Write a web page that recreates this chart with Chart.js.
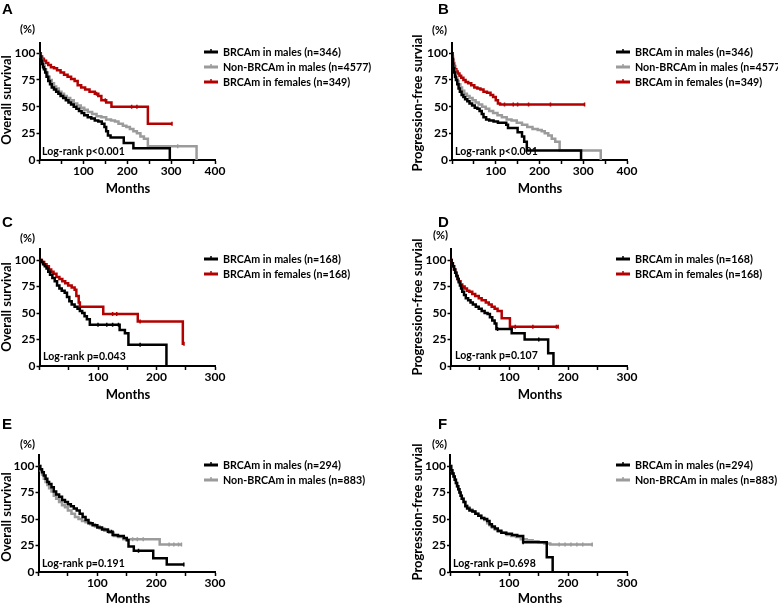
<!DOCTYPE html>
<html>
<head>
<meta charset="utf-8">
<script src="https://cdn.jsdelivr.net/npm/chart.js@4.4.0/dist/chart.umd.min.js"></script>
<style>
html, body { margin: 0; padding: 0; background: #fff; }
body { width: 778px; height: 605px; position: relative; overflow: hidden; }
canvas { position: absolute; }
</style>
</head>
<body>
<canvas id="panelA" width="389" height="200" style="left:0;top:0"></canvas>
<canvas id="panelB" width="389" height="200" style="left:389px;top:0"></canvas>
<canvas id="panelC" width="389" height="200" style="left:0;top:200px"></canvas>
<canvas id="panelD" width="389" height="200" style="left:389px;top:200px"></canvas>
<canvas id="panelE" width="389" height="205" style="left:0;top:400px"></canvas>
<canvas id="panelF" width="389" height="205" style="left:389px;top:400px"></canvas>
<script>
// Kaplan-Meier curves: [month, % surviving after the step at that month]
// A - overall survival, whole cohort
const osMaleBrca = [[0,100],[2,97],[4,93],[6,90],[8,87],[10,85],[13,82],[16,78],[20,74],[24,71],[28,68],[33,66],[38,64],[43,62],[48,60],[54,58],[60,56],[66,54],[72,52],[78,50],[84,48],[90,46],[96,44],[102,42],[110,40],[118,39],[126,37],[134,36],[142,34],[148,31],[152,27],[156,23],[162,21],[192,16],[214,11],[297,0]];
const osMaleNon = [[0,100],[2,97],[4,94],[6,91],[9,88],[12,85],[15,82],[19,78],[23,75],[28,72],[33,69],[38,67],[44,64],[50,62],[56,60],[62,58],[70,56],[78,53],[86,51],[94,49],[102,47],[110,45],[120,43],[130,41],[141,40],[152,38],[163,37],[172,36],[180,34],[190,32],[198,31],[206,29],[214,27],[222,25],[230,22],[238,20],[247,13],[358,0]];
const osFemaleBrca = [[0,100],[3,97],[6,95],[10,93],[15,91],[20,89],[26,87],[33,86],[40,84],[48,82],[56,80],[64,78],[72,76],[80,74],[87,70],[95,68],[104,66],[114,64],[126,62],[134,60],[141,56],[152,54],[164,50],[247,34],[302,34]];
const osMaleNonCens = [315];
const osFemaleBrcaCens = [130, 150, 210, 222, 302];

// B - progression-free survival, whole cohort
const pfsMaleBrca = [[0,100],[1,95],[2,90],[3,86],[5,82],[7,78],[9,75],[12,71],[15,67],[18,64],[22,61],[26,59],[30,57],[35,55],[40,53],[46,51],[52,49],[58,48],[63,46],[68,43],[72,40],[78,38],[85,37],[95,36],[105,35],[124,33],[128,30],[150,26],[160,22],[165,17],[171,9],[295,0]];
const pfsMaleNon = [[0,100],[1,96],[2,92],[3,88],[5,84],[7,80],[9,77],[12,74],[15,71],[19,68],[23,65],[28,62],[34,60],[40,58],[47,56],[54,54],[61,52],[69,50],[77,48],[85,46],[94,44],[104,42],[114,40],[125,38],[136,37],[148,35],[160,33],[172,31],[184,29],[196,28],[205,27],[212,25],[220,23],[228,20],[236,17],[246,9],[340,0]];
const pfsFemaleBrca = [[0,100],[1,97],[2,94],[3,91],[5,88],[7,85],[10,83],[13,81],[17,79],[21,77],[26,75],[31,73],[37,72],[44,70],[51,68],[58,67],[65,66],[72,64],[80,63],[88,61],[94,59],[100,56],[105,53],[110,52],[303,52]];
const pfsFemaleBrcaCens = [120, 140, 150, 175, 225, 303];

// C - overall survival, matched BRCAm males vs females
const osMatchMale = [[0,100],[3,98],[6,96],[9,94],[12,92],[15,89],[18,86],[22,83],[26,80],[30,76],[34,73],[38,71],[43,69],[47,65],[51,61],[55,58],[60,56],[65,54],[69,52],[73,50],[77,47],[81,44],[86,39],[137,34],[146,31],[152,20],[217,0]];
const osMatchFemale = [[0,100],[4,98],[8,96],[12,94],[16,91],[20,89],[24,87],[29,84],[34,82],[39,80],[44,78],[49,76],[55,74],[60,72],[63,66],[67,60],[69,56],[109,49],[168,42],[245,21],[247,21]];
const osMatchMaleCens = [100, 115, 125, 135, 172];
const osMatchFemaleCens = [125, 132, 172, 247];

// D - progression-free survival, matched BRCAm males vs females
const pfsMatchMale = [[0,100],[2,97],[4,94],[6,91],[8,88],[10,85],[12,82],[14,79],[16,76],[18,73],[20,70],[23,67],[26,64],[30,62],[34,60],[38,58],[43,56],[48,54],[53,52],[58,50],[63,49],[67,46],[71,43],[75,40],[78,35],[104,31],[126,25],[166,12],[175,0]];
const pfsMatchFemale = [[0,100],[2,97],[4,94],[6,91],[8,88],[10,85],[12,82],[14,80],[17,77],[20,75],[24,73],[28,71],[32,70],[37,68],[42,66],[48,64],[53,62],[60,60],[65,58],[70,56],[75,54],[80,52],[87,45],[101,37],[183,37]];
const pfsMatchMaleCens = [80, 150];
const pfsMatchFemaleCens = [110, 140, 180, 183];

// E - overall survival, matched BRCAm vs non-BRCAm males
const osMatch2Brca = [[0,100],[3,97],[6,94],[9,91],[12,88],[15,85],[18,83],[22,80],[26,76],[30,73],[35,71],[40,68],[45,66],[50,64],[55,62],[60,60],[65,58],[70,55],[75,52],[80,49],[85,46],[92,44],[100,42],[108,40],[118,38],[126,35],[135,34],[145,32],[150,30],[153,24],[162,20],[195,13],[218,7],[247,7]];
const osMatch2Non = [[0,100],[3,96],[6,92],[9,88],[12,85],[15,82],[18,79],[22,76],[26,72],[30,69],[35,66],[40,63],[45,61],[50,58],[56,55],[62,52],[68,50],[74,48],[80,47],[88,45],[96,43],[104,41],[112,39],[120,37],[128,34],[136,33],[144,31],[206,26],[243,26]];
const osMatch2BrcaCens = [124, 170, 247];
const osMatch2NonCens = [160, 168, 178, 222, 230, 238, 243];

// F - progression-free survival, matched BRCAm vs non-BRCAm males
const pfsMatch2Brca = [[0,100],[2,96],[4,93],[6,90],[8,87],[10,84],[12,81],[14,78],[16,75],[18,72],[20,69],[23,66],[26,62],[29,60],[33,58],[38,57],[43,55],[48,53],[53,51],[58,50],[63,48],[67,45],[71,43],[76,41],[81,39],[87,37],[95,36],[105,35],[114,34],[124,28],[164,14],[174,0]];
const pfsMatch2Non = [[0,100],[2,96],[4,93],[6,90],[8,87],[10,84],[12,81],[14,78],[16,75],[18,72],[20,69],[23,66],[26,63],[29,61],[33,59],[38,57],[43,55],[48,53],[53,51],[58,49],[63,46],[67,44],[71,42],[76,40],[81,38],[88,37],[96,35],[104,34],[112,33],[120,31],[130,30],[140,29],[150,28],[160,27],[170,26],[241,26]];
const pfsMatch2BrcaCens = [124];
const pfsMatch2NonCens = [185, 195, 205, 215, 225, 241];

// legend labels
const labelsA = ['BRCAm in males (n=346)', 'Non-BRCAm in males (n=4577)', 'BRCAm in females (n=349)'];
const labelsC = ['BRCAm in males (n=168)', 'BRCAm in females (n=168)'];
const labelsE = ['BRCAm in males (n=294)', 'Non-BRCAm in males (n=883)'];

const yTicks = [0, 25, 50, 75, 100];

const BLACK = '#000000';
const GREY = '#9b9b9b';
const RED = '#b30000';
const FONT = 'Lato, "Open Sans", sans-serif';

// value of a step curve at month t
function survivalAt(curve, t) {
    let v = curve[0][1];
    curve.forEach(p => { if (p[0] <= t) v = p[1]; });
    return v;
}

// draws panel letter, (%) unit, axis titles, p-value and the legend
const panelText = {
    id: 'panelText',
    afterDraw(chart, args, o) {
        const ctx = chart.ctx;
        ctx.save();
        ctx.fillStyle = '#000';

        ctx.font = 'bold 15px "Liberation Sans", Arial, sans-serif';
        ctx.textAlign = 'left';
        ctx.textBaseline = 'top';
        ctx.fillText(o.letter, o.letterPos[0], o.letterPos[1]);

        ctx.textBaseline = 'middle';
        ctx.font = 'bold 11px ' + FONT;
        ctx.fillText('(%)', o.unitPos[0], o.unitPos[1]);

        ctx.font = 'bold 10.5px ' + FONT;
        ctx.fillText(o.pText, o.pPos[0], o.pPos[1]);

        ctx.textAlign = 'center';
        ctx.font = 'bold 13px ' + FONT;
        ctx.fillText('Months', o.xTitlePos[0], o.xTitlePos[1]);

        ctx.save();
        ctx.translate(o.yTitlePos[0], o.yTitlePos[1]);
        ctx.rotate(-Math.PI / 2);
        ctx.font = 'bold 13px ' + FONT;
        ctx.fillText(o.yTitle, 0, 0);
        ctx.restore();

        // legend
        ctx.textAlign = 'left';
        ctx.font = 'bold 10.7px ' + FONT;
        o.legend.forEach((item, i) => {
            const y = o.legendY[i];
            ctx.strokeStyle = item.color;
            ctx.lineWidth = 3;
            ctx.beginPath();
            ctx.moveTo(o.legendX, y);
            ctx.lineTo(o.legendX + 14, y);
            ctx.stroke();
            ctx.lineWidth = 1.5;
            ctx.beginPath();
            ctx.moveTo(o.legendX + 7, y - 3);
            ctx.lineTo(o.legendX + 7, y);
            ctx.stroke();
            ctx.fillText(item.label, o.legendX + 19, y + 0.5);
        });
        ctx.restore();
    }
};

function curveDataset(curve, color) {
    return {
        data: curve.map(p => ({ x: p[0], y: p[1] })),
        stepped: 'before',
        borderColor: color,
        borderWidth: 2.5,
        pointRadius: 0,
        fill: false
    };
}

function censorDataset(curve, times, color) {
    return {
        data: times.map(t => ({ x: t, y: survivalAt(curve, t) })),
        showLine: false,
        pointStyle: 'line',
        rotation: 90,
        pointRadius: 2,
        borderWidth: 1.5,
        borderColor: color,
        backgroundColor: color
    };
}

function makePanel(id, cfg) {
    const canvas = document.getElementById(id);
    const axisW = 30, axisH = 20;
    const tickFont = { family: FONT, weight: 'bold', size: 12 };
    new Chart(canvas, {
        type: 'line',
        data: { datasets: cfg.datasets },
        options: {
            responsive: false,
            animation: false,
            devicePixelRatio: 1,
            layout: {
                padding: {
                    left: cfg.axisX - axisW,
                    top: cfg.y0 - 110 * cfg.pxPerPct,
                    right: canvas.width - cfg.axisRight,
                    bottom: canvas.height - cfg.y0 - axisH
                }
            },
            plugins: {
                legend: { display: false },
                tooltip: { enabled: false },
                panelText: cfg.text
            },
            scales: {
                x: {
                    type: 'linear',
                    min: 0,
                    max: cfg.xMax,
                    afterFit: s => { s.height = axisH; },
                    border: { display: true, color: '#000', width: 2 },
                    grid: { drawOnChartArea: false, drawTicks: true, tickLength: 4, tickWidth: 1.5, tickColor: '#000' },
                    ticks: {
                        stepSize: 50,
                        autoSkip: false,
                        maxRotation: 0,
                        padding: 0,
                        color: '#000',
                        font: tickFont,
                        callback: v => (v > 0 && v % 100 === 0) ? String(v) : ''
                    }
                },
                y: {
                    min: 0,
                    max: 110,
                    afterFit: s => { s.width = axisW; },
                    afterBuildTicks: s => { s.ticks = yTicks.map(v => ({ value: v })); },
                    border: { display: true, color: '#000', width: 2 },
                    grid: { drawOnChartArea: false, drawTicks: true, tickLength: 3, tickWidth: 1.5, tickColor: '#000' },
                    ticks: { padding: 1, color: '#000', font: tickFont }
                }
            }
        },
        plugins: [panelText]
    });
}

makePanel('panelA', {
    axisX: 39.5, axisRight: 215, y0: 160, pxPerPct: 1.067, xMax: 400,
    datasets: [
        curveDataset(osMaleBrca, BLACK),
        curveDataset(osMaleNon, GREY),
        curveDataset(osFemaleBrca, RED),
        censorDataset(osMaleNon, osMaleNonCens, GREY),
        censorDataset(osFemaleBrca, osFemaleBrcaCens, RED)
    ],
    text: {
        letter: 'A', letterPos: [2, 2], unitPos: [20, 29], yTitle: 'Overall survival', yTitlePos: [7, 100],
        xTitlePos: [128, 189], pText: 'Log-rank p<0.001', pPos: [42, 152],
        legendX: 204, legendY: [52, 67, 82],
        legend: [{ label: labelsA[0], color: BLACK }, { label: labelsA[1], color: GREY }, { label: labelsA[2], color: RED }]
    }
});

makePanel('panelB', {
    axisX: 63, axisRight: 238, y0: 160, pxPerPct: 1.067, xMax: 400,
    datasets: [
        curveDataset(pfsMaleBrca, BLACK),
        curveDataset(pfsMaleNon, GREY),
        curveDataset(pfsFemaleBrca, RED),
        censorDataset(pfsFemaleBrca, pfsFemaleBrcaCens, RED)
    ],
    text: {
        letter: 'B', letterPos: [49, 2], unitPos: [43, 30], yTitle: 'Progression-free survial', yTitlePos: [29, 103],
        xTitlePos: [151, 189], pText: 'Log-rank p<0.001', pPos: [66, 152],
        legendX: 227, legendY: [52, 67, 82],
        legend: [{ label: labelsA[0], color: BLACK }, { label: labelsA[1], color: GREY }, { label: labelsA[2], color: RED }]
    }
});

makePanel('panelC', {
    axisX: 39.5, axisRight: 215, y0: 166, pxPerPct: 1.06, xMax: 300,
    datasets: [
        curveDataset(osMatchMale, BLACK),
        curveDataset(osMatchFemale, RED),
        censorDataset(osMatchMale, osMatchMaleCens, BLACK),
        censorDataset(osMatchFemale, osMatchFemaleCens, RED)
    ],
    text: {
        letter: 'C', letterPos: [2, 15], unitPos: [20, 38], yTitle: 'Overall survival', yTitlePos: [7, 107],
        xTitlePos: [128, 195], pText: 'Log-rank p=0.043', pPos: [43, 157],
        legendX: 204, legendY: [59, 74],
        legend: [{ label: labelsC[0], color: BLACK }, { label: labelsC[1], color: RED }]
    }
});

makePanel('panelD', {
    axisX: 61.5, axisRight: 238, y0: 166, pxPerPct: 1.06, xMax: 300,
    datasets: [
        curveDataset(pfsMatchMale, BLACK),
        curveDataset(pfsMatchFemale, RED),
        censorDataset(pfsMatchMale, pfsMatchMaleCens, BLACK),
        censorDataset(pfsMatchFemale, pfsMatchFemaleCens, RED)
    ],
    text: {
        letter: 'D', letterPos: [49, 15], unitPos: [44, 35], yTitle: 'Progression-free survial', yTitlePos: [29, 107],
        xTitlePos: [151, 195], pText: 'Log-rank p=0.107', pPos: [66, 156],
        legendX: 227, legendY: [59, 74],
        legend: [{ label: labelsC[0], color: BLACK }, { label: labelsC[1], color: RED }]
    }
});

makePanel('panelE', {
    axisX: 38.5, axisRight: 215, y0: 172, pxPerPct: 1.06, xMax: 300,
    datasets: [
        curveDataset(osMatch2Brca, BLACK),
        curveDataset(osMatch2Non, GREY),
        censorDataset(osMatch2Brca, osMatch2BrcaCens, BLACK),
        censorDataset(osMatch2Non, osMatch2NonCens, GREY)
    ],
    text: {
        letter: 'E', letterPos: [2, 17], unitPos: [20, 44], yTitle: 'Overall survival', yTitlePos: [7, 117],
        xTitlePos: [128, 199], pText: 'Log-rank p=0.191', pPos: [42, 164],
        legendX: 204, legendY: [65, 80],
        legend: [{ label: labelsE[0], color: BLACK }, { label: labelsE[1], color: GREY }]
    }
});

makePanel('panelF', {
    axisX: 61, axisRight: 238, y0: 172, pxPerPct: 1.06, xMax: 300,
    datasets: [
        curveDataset(pfsMatch2Brca, BLACK),
        curveDataset(pfsMatch2Non, GREY),
        censorDataset(pfsMatch2Brca, pfsMatch2BrcaCens, BLACK),
        censorDataset(pfsMatch2Non, pfsMatch2NonCens, GREY)
    ],
    text: {
        letter: 'F', letterPos: [49, 17], unitPos: [43, 44], yTitle: 'Progression-free survial', yTitlePos: [29, 112],
        xTitlePos: [151, 199], pText: 'Log-rank p=0.698', pPos: [64, 164],
        legendX: 227, legendY: [65, 80],
        legend: [{ label: labelsE[0], color: BLACK }, { label: labelsE[1], color: GREY }]
    }
});
</script>
</body>
</html>
